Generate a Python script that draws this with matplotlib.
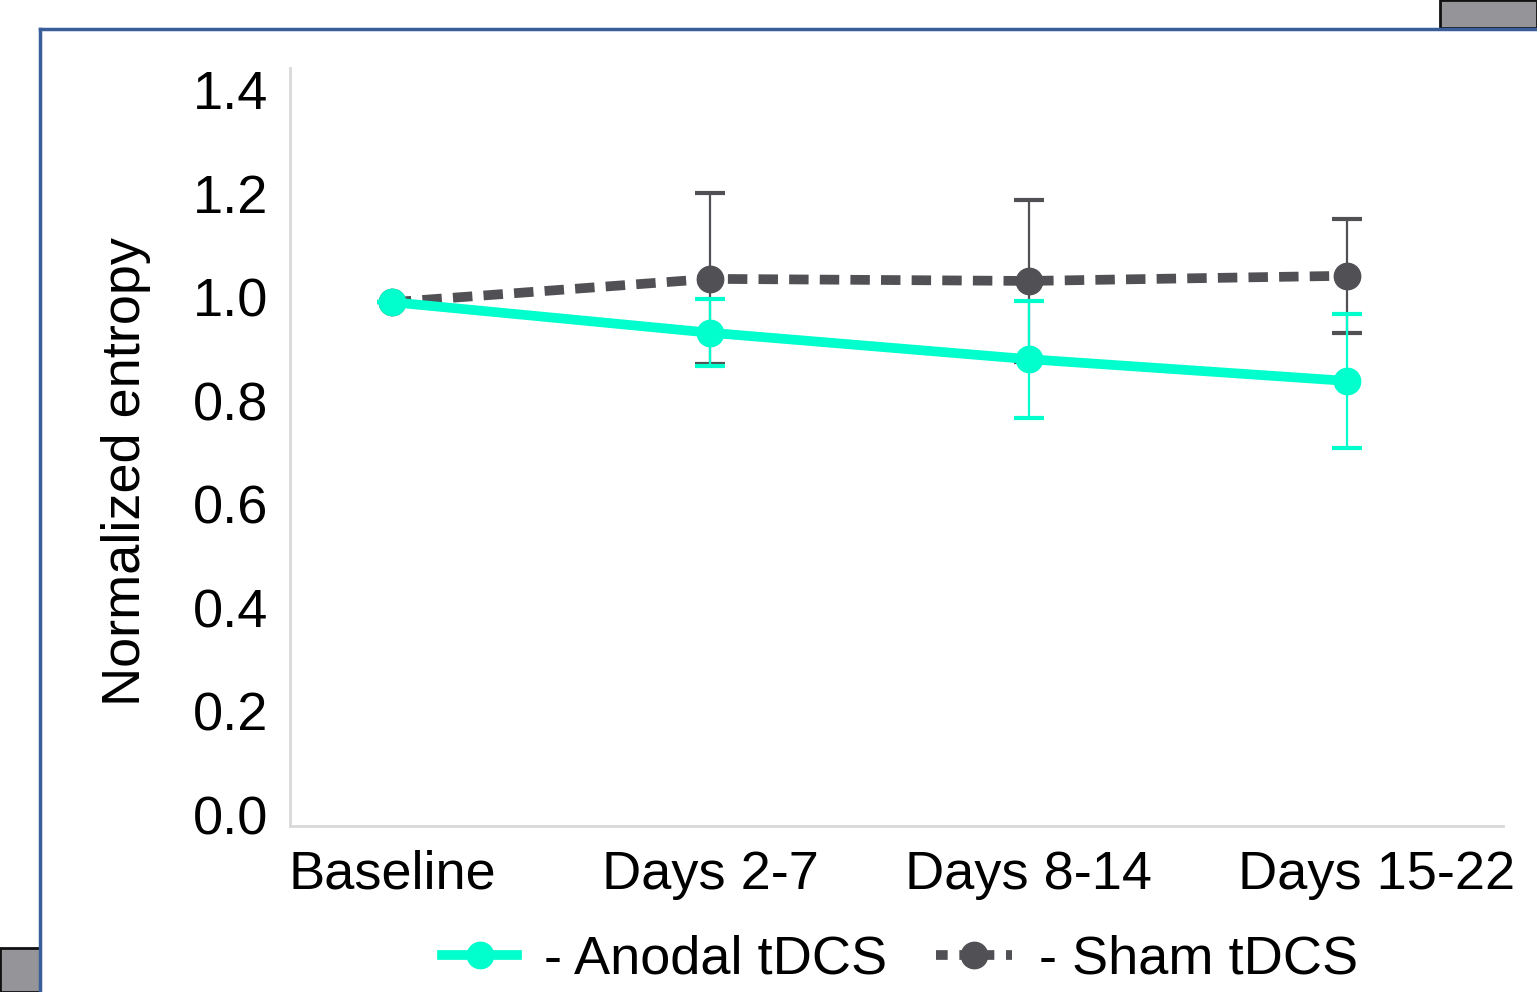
import numpy as np
import matplotlib.pyplot as plt
import matplotlib.transforms as mtransforms
from matplotlib.patches import Rectangle
from matplotlib.lines import Line2D

plt.rcParams['font.family'] = ['Liberation Sans', 'DejaVu Sans']

periods = ['Baseline', 'Days 2-7', 'Days 8-14', 'Days 15-22']
anodal = [0.99, 0.931, 0.880, 0.838]
anodal_err = [0.0, 0.065, 0.113, 0.13]
sham = [0.99, 1.035, 1.031, 1.041]
sham_err = [0.0, 0.165, 0.156, 0.11]
yticks = [0.0, 0.2, 0.4, 0.6, 0.8, 1.0, 1.2, 1.4]

teal = '#00FFCC'
grey = '#515055'
fs = 39

fig = plt.figure(figsize=(15.37, 9.92), dpi=100)
ax = fig.add_axes([290/1537, 1-826/992, (1503-290)/1537, (826-68)/992])

x = np.arange(len(periods))

# sham first so anodal sits on top at baseline
ax.errorbar(x, sham, yerr=sham_err, color=grey, lw=7, dashes=(2, 1.15),
            dash_capstyle='butt', marker='o', ms=19, elinewidth=1.6,
            capsize=11, capthick=3, zorder=2)
ax.errorbar(x, anodal, yerr=anodal_err, color=teal, lw=7, marker='o', ms=19,
            elinewidth=1.6, capsize=11, capthick=3, zorder=3)

ax.set_xlim(-0.32, 3.49)
ax.set_ylim(-0.021, 1.442)
ax.set_yticks(yticks)
ax.set_yticklabels([f'{v:.1f}' for v in yticks])
ax.set_xticks(x)
ax.set_xticklabels(periods)
ax.tick_params(axis='both', length=0, labelsize=fs)
ax.tick_params(axis='y', pad=16)
ax.tick_params(axis='x', pad=17)
ax.set_ylabel('Normalized entropy', fontsize=fs)
ax.yaxis.set_label_coords(-0.115, 0.468)

# excel nudged the last label to the right
last = ax.get_xticklabels()[-1]
last.set_transform(last.get_transform() +
                   mtransforms.ScaledTranslation(0.3, 0, fig.dpi_scale_trans))

for s in ['top', 'right']:
    ax.spines[s].set_visible(False)
for s in ['left', 'bottom']:
    ax.spines[s].set_color('#d9d9d9')
    ax.spines[s].set_linewidth(2)

handles = [
    Line2D([], [], color=teal, lw=7, marker='o', ms=19),
    Line2D([], [], color=grey, lw=7, dashes=(1.2, 1.2), marker='o', ms=19),
]
fig.legend(handles, ['- Anodal tDCS', '- Sham tDCS'], loc='center',
           bbox_to_anchor=(900/1537, 1-960/992), ncol=2, frameon=False,
           fontsize=fs, handlelength=1.4, columnspacing=0.9, handletextpad=0.5,
           borderpad=0)

# slide frame pieces
fig.patches.append(Rectangle((1440/1537, 1-28/992), 97/1537, 28/992,
                             transform=fig.transFigure, facecolor='#959498',
                             edgecolor='#111111', lw=2, zorder=0))
fig.patches.append(Rectangle((0, 0), 40/1537, 44/992,
                             transform=fig.transFigure, facecolor='#959498',
                             edgecolor='#111111', lw=2, zorder=0))
fig.add_artist(Line2D([40/1537, 1], [1-29/992, 1-29/992],
                      transform=fig.transFigure, color='#3A5E9A', lw=2.5))
fig.add_artist(Line2D([40/1537, 40/1537], [0, 1-29/992],
                      transform=fig.transFigure, color='#3A5E9A', lw=2.5))

fig.savefig('out.png', dpi=100)
